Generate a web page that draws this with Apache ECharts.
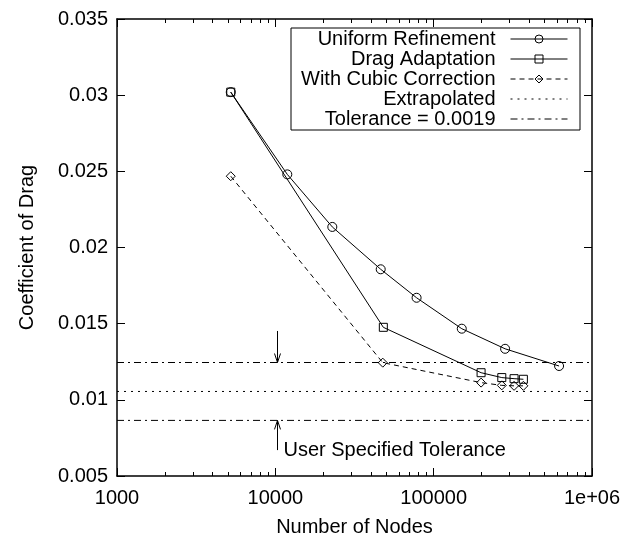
<!DOCTYPE html>
<html>
<head>
<meta charset="utf-8">
<script src="https://cdn.jsdelivr.net/npm/echarts@6/dist/echarts.min.js"></script>
<style>
  html, body { margin: 0; padding: 0; background: #fff; }
  #myChart { width: 626px; height: 542px; }
</style>
</head>
<body>
<div id="myChart"></div>
<script>
// values
const uniformNodes = [5230, 11900, 22900, 46300, 78000, 150500, 282600, 619500];
const uniformCd    = [0.0302, 0.0248, 0.02135, 0.01857, 0.0167, 0.01467, 0.01335, 0.01222];
const adaptNodes   = [5230, 48100, 199300, 269300, 322000, 368700];
const adaptCd      = [0.0302, 0.01476, 0.01178, 0.01146, 0.01139, 0.01135];
const cubicNodes   = [5230, 47700, 199300, 269300, 322000, 368700];
const cubicCd      = [0.02468, 0.01244, 0.01113, 0.01095, 0.01092, 0.01092];
const extrapolated = 0.01055;
const tolerance    = 0.0019;
const xRange = [1000, 1000000];
const yRange = [0.005, 0.035];
const yStep  = 0.005;
const minorTicks = [2000, 3000, 4000, 5000, 6000, 7000, 8000, 9000,
                    20000, 30000, 40000, 50000, 60000, 70000, 80000, 90000,
                    200000, 300000, 400000, 500000, 600000, 700000, 800000, 900000];
// arrows: tail values, heads sit on the tolerance lines
const arrowX = 10200;
const arrowTails = [0.01452, 0.0067];
const noteText = 'User Specified Tolerance';

const font = 'Liberation Sans, Arial, Helvetica, sans-serif';
const names = ['Uniform Refinement', 'Drag Adaptation', 'With Cubic Correction', 'Extrapolated', 'Tolerance = 0.0019'];

function zip(xs, ys) { return xs.map((x, i) => [x, ys[i]]); }

let myChart = echarts.init(document.getElementById('myChart'));

const axisCommon = {
  axisLine: { show: true, lineStyle: { color: '#000', width: 1.5 } },
  splitLine: { show: false },
};

const openMarker = { color: 'rgba(0,0,0,0)', borderColor: '#000', borderWidth: 1 };
const noMarker = { color: 'rgba(0,0,0,0)', borderColor: 'rgba(0,0,0,0)', borderWidth: 0 };

myChart.setOption({
  animation: false,
  backgroundColor: '#fff',
  grid: { left: 117, right: 34, top: 19, bottom: 63 },
  legend: {
    data: names,
    orient: 'vertical',
    align: 'right',
    left: 291,
    top: 28,
    itemWidth: 57,
    itemHeight: 10,
    itemGap: 0,
    padding: [1, 12, 1, 10],
    borderColor: '#000',
    borderWidth: 1,
    selectedMode: false,
    lineStyle: { width: 1 },
    itemStyle: { borderWidth: 1 },
    textStyle: { fontSize: 20, fontFamily: font, color: '#000', lineHeight: 20, padding: [0, 10, 0, 0] }
  },
  xAxis: [
    Object.assign({
      type: 'log', logBase: 10, min: xRange[0], max: xRange[1], position: 'bottom',
      name: 'Number of Nodes', nameLocation: 'middle', nameGap: 41,
      nameTextStyle: { fontSize: 20, fontFamily: font, color: '#000' },
      axisTick: { inside: true, length: 8, lineStyle: { color: '#000' } },
      axisLabel: {
        fontSize: 20, fontFamily: font, color: '#000', margin: 12,
        formatter: v => { const r = Math.round(v); return r >= 1000000 ? '1e+06' : String(r); }
      }
    }, axisCommon),
    Object.assign({
      type: 'log', logBase: 10, min: xRange[0], max: xRange[1], position: 'top',
      axisTick: { inside: true, length: 8, lineStyle: { color: '#000' } },
      axisLabel: { show: false }
    }, axisCommon)
  ],
  yAxis: [
    Object.assign({
      type: 'value', min: yRange[0], max: yRange[1], interval: yStep,
      name: 'Coefficient of Drag', nameLocation: 'middle', nameGap: 80,
      nameTextStyle: { fontSize: 20, fontFamily: font, color: '#000' },
      axisTick: { inside: true, length: 8, lineStyle: { color: '#000' } },
      axisLabel: {
        fontSize: 20, fontFamily: font, color: '#000', margin: 9,
        formatter: v => String(+v.toFixed(3))
      }
    }, axisCommon),
    Object.assign({
      type: 'value', min: yRange[0], max: yRange[1], interval: yStep, position: 'right',
      axisTick: { inside: true, length: 8, lineStyle: { color: '#000' } },
      axisLabel: { show: false }
    }, axisCommon)
  ],
  series: [
    {
      name: names[0], type: 'line', data: zip(uniformNodes, uniformCd),
      symbol: 'circle', symbolSize: 9, emphasis: { disabled: true },
      lineStyle: { color: '#000', width: 1 }, itemStyle: openMarker, color: '#000'
    },
    {
      name: names[1], type: 'line', data: zip(adaptNodes, adaptCd),
      symbol: 'rect', symbolSize: 8, emphasis: { disabled: true },
      lineStyle: { color: '#000', width: 1 }, itemStyle: openMarker, color: '#000'
    },
    {
      name: names[2], type: 'line', data: zip(cubicNodes, cubicCd),
      symbol: 'diamond', symbolSize: 9, emphasis: { disabled: true },
      lineStyle: { color: '#000', width: 1, type: [5, 4] }, itemStyle: openMarker, color: '#000'
    },
    {
      name: names[3], type: 'line', data: zip(xRange, [extrapolated, extrapolated]),
      symbol: 'none', emphasis: { disabled: true }, color: '#000', itemStyle: noMarker,
      lineStyle: { color: '#000', width: 1, type: [2, 5] }
    },
    {
      name: names[4], type: 'line', data: zip(xRange, [extrapolated + tolerance, extrapolated + tolerance]),
      symbol: 'none', emphasis: { disabled: true }, color: '#000', itemStyle: noMarker,
      lineStyle: { color: '#000', width: 1, type: [7, 4, 2, 4] }
    },
    {
      name: names[4], type: 'line', data: zip(xRange, [extrapolated - tolerance, extrapolated - tolerance]),
      symbol: 'none', emphasis: { disabled: true }, color: '#000', itemStyle: noMarker,
      lineStyle: { color: '#000', width: 1, type: [7, 4, 2, 4] }
    },
    {
      // minor log ticks, bottom and top
      type: 'custom', silent: true,
      data: minorTicks.map(v => [v, yRange[0]]),
      renderItem: function (params, api) {
        const x = Math.round(api.coord([api.value(0), api.value(1)])[0]) + 0.5;
        const cs = params.coordSys;
        const st = { stroke: '#000', lineWidth: 1 };
        return {
          type: 'group',
          children: [
            { type: 'line', shape: { x1: x, y1: cs.y + cs.height, x2: x, y2: cs.y + cs.height - 4 }, style: st },
            { type: 'line', shape: { x1: x, y1: cs.y, x2: x, y2: cs.y + 4 }, style: st }
          ]
        };
      }
    },
    {
      // tolerance arrows and note
      type: 'custom', silent: true,
      data: [[arrowX, arrowTails[0], extrapolated + tolerance], [arrowX, arrowTails[1], extrapolated - tolerance]],
      renderItem: function (params, api) {
        const a = api.coord([api.value(0), api.value(1)]);
        const b = api.coord([api.value(0), api.value(2)]);
        const x = Math.round(a[0]) + 0.5;
        const dir = b[1] > a[1] ? 1 : -1;
        const st = { stroke: '#000', lineWidth: 1, fill: null };
        const children = [
          { type: 'line', shape: { x1: x, y1: a[1], x2: x, y2: b[1] }, style: st },
          { type: 'polyline', shape: { points: [[x - 3, b[1] - dir * 9], [x, b[1]], [x + 3, b[1] - dir * 9]] }, style: st }
        ];
        if (params.dataIndex === 1) {
          children.push({
            type: 'text',
            style: { x: x + 6, y: a[1], text: noteText, fill: '#000', font: '20px ' + font, verticalAlign: 'middle', align: 'left' }
          });
        }
        return { type: 'group', children: children };
      }
    }
  ]
});
</script>
</body>
</html>
